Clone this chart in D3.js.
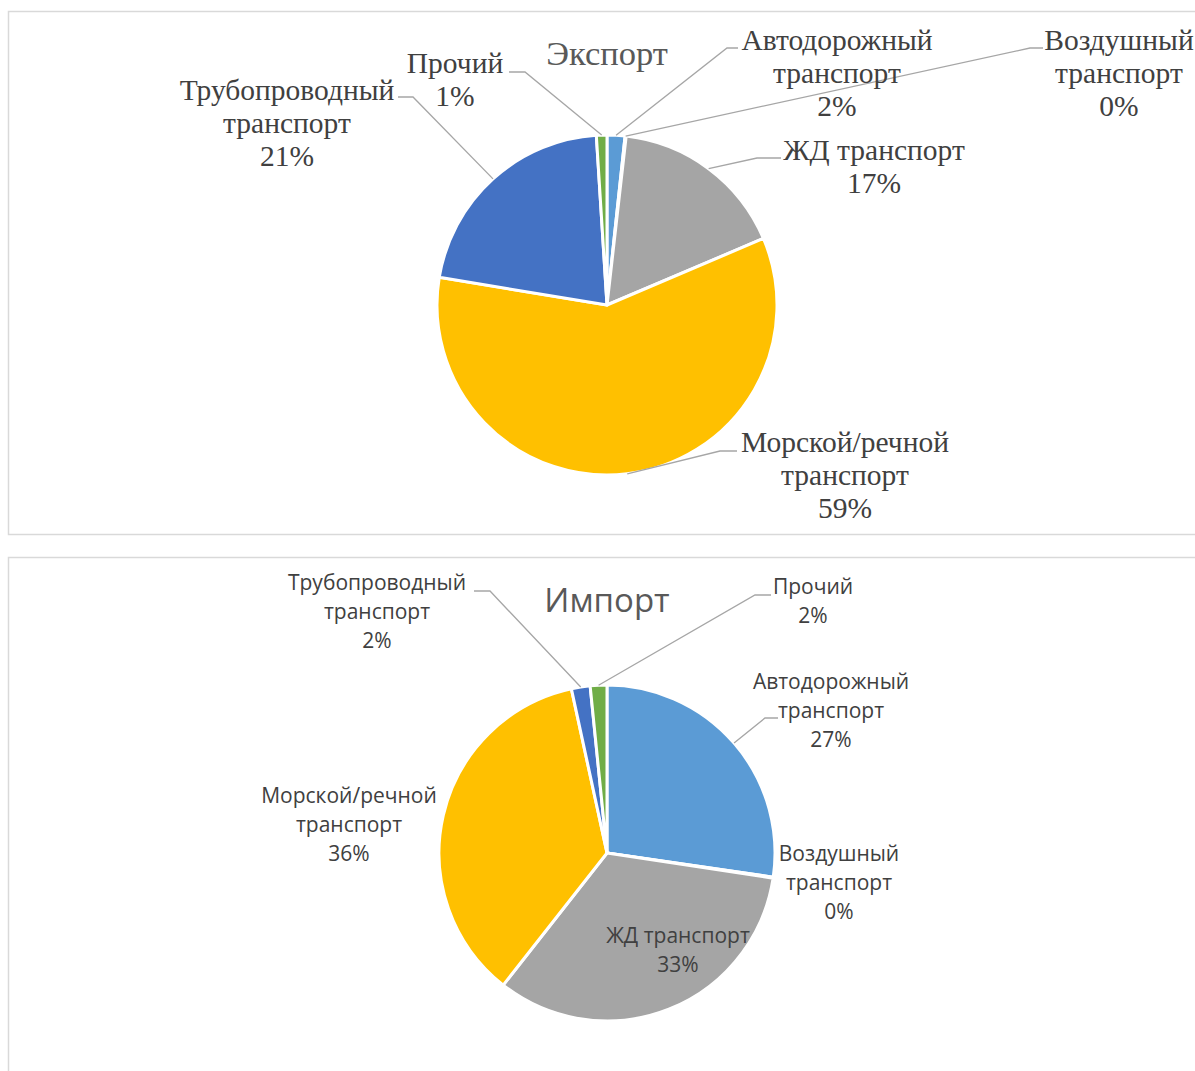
<!DOCTYPE html>
<html><head><meta charset="utf-8">
<script src="https://cdn.jsdelivr.net/npm/d3@7/dist/d3.min.js"></script>
<style>body{margin:0;background:#fff}svg{display:block}</style>
</head><body>
<script>
// ---- data ----
const categories = ["Автодорожный транспорт","Воздушный транспорт","ЖД транспорт","Морской/речной транспорт","Трубопроводный транспорт","Прочий"];
const categoryLines = [["Автодорожный","транспорт"],["Воздушный","транспорт"],["ЖД транспорт"],["Морской/речной","транспорт"],["Трубопроводный","транспорт"],["Прочий"]];
const exportValues = [1.7, 0.1, 16.8, 59.0, 21.4, 1.0];
const importValues = [27.3, 0.1, 33.2, 36.0, 1.8, 1.6];
const colors = ["#5B9BD5","#ED7D31","#A5A5A5","#FFC000","#4472C4","#70AD47"];
const titles = ["Экспорт","Импорт"];

// ---- layout (label placement relative to pie centre) ----
const exportLayout = {
  cx:607, cy:305, r:170, font:"'Liberation Serif','Times New Roman',serif", size:29.5, lh:33, titleSize:34.5, titleY:-240,
  labels:[
    {x:230, y:-255, elbow:[120,-257], end:[131,-257]},
    {x:512, y:-255, elbow:[423,-257], end:[436,-257]},
    {x:267, y:-145, elbow:[150,-147], end:[174,-147]},
    {x:238, y:147, elbow:[113,146], end:[130,146]},
    {x:-320, y:-205, elbow:[-194,-208], end:[-209,-208]},
    {x:-152, y:-232, elbow:[-82,-233], end:[-98,-233]}
  ]
};
const importLayout = {
  cx:607, cy:853, r:168, font:"'Open Sans','Noto Sans',sans-serif", size:21, lh:29, titleSize:33, titleY:-241,
  labels:[
    {x:224, y:-164, elbow:[158,-135], end:[171,-135]},
    {x:232, y:8, elbow:null, end:null},
    {x:71, y:90, elbow:null, end:null},
    {x:-258, y:-50, elbow:null, end:null},
    {x:-230, y:-263, elbow:[-117,-262], end:[-133,-262]},
    {x:206, y:-259, elbow:[148,-258], end:[164,-258]}
  ]
};

const W = 1195, H = 1071;
const svg = d3.select("body").append("svg").attr("width", W).attr("height", H);

// frames
svg.append("rect").attr("x",8.5).attr("y",11.5).attr("width",1200).attr("height",523)
  .attr("fill","none").attr("stroke","#d9d9d9").attr("stroke-width",1.5);
svg.append("rect").attr("x",8.5).attr("y",557.5).attr("width",1200).attr("height",600)
  .attr("fill","none").attr("stroke","#d9d9d9").attr("stroke-width",1.5);

function drawPie(values, layout, title) {
  const g = svg.append("g").attr("transform", `translate(${layout.cx},${layout.cy})`);
  const pie = d3.pie().sort(null).value(d => d)(values);
  const arc = d3.arc().innerRadius(0).outerRadius(layout.r);
  const total = d3.sum(values);
  const pct = v => Math.round(v / total * 100) + "%";

  g.selectAll("path.slice").data(pie).join("path").attr("class","slice")
    .attr("d", arc).attr("fill", (d,i) => colors[i])
    .attr("stroke", "#fff").attr("stroke-width", 3).attr("stroke-linejoin","round");

  // title
  g.append("text").attr("x",0).attr("y",layout.titleY).attr("text-anchor","middle")
    .attr("font-family", layout.font).attr("font-size", layout.titleSize).attr("fill","#595959").text(title);

  // leader lines
  pie.forEach((d,i) => {
    const L = layout.labels[i];
    if (!L.elbow) return;
    const a = (d.startAngle + d.endAngle) / 2;
    const sx = Math.sin(a) * layout.r, sy = -Math.cos(a) * layout.r;
    g.append("polyline").attr("points", [[sx,sy], L.elbow, L.end].map(p => p.join(",")).join(" "))
      .attr("fill","none").attr("stroke","#a6a6a6").attr("stroke-width",1.3);
  });

  // labels
  pie.forEach((d,i) => {
    const L = layout.labels[i];
    const lines = categoryLines[i].concat([pct(values[i])]);
    const t = g.append("text").attr("text-anchor","middle").attr("font-family", layout.font)
      .attr("font-size", layout.size).attr("fill","#404040");
    lines.forEach((s,k) => t.append("tspan").attr("x", L.x).attr("y", L.y + k*layout.lh).text(s));
  });
}

drawPie(exportValues, exportLayout, titles[0]);
drawPie(importValues, importLayout, titles[1]);
</script>
</body></html>
